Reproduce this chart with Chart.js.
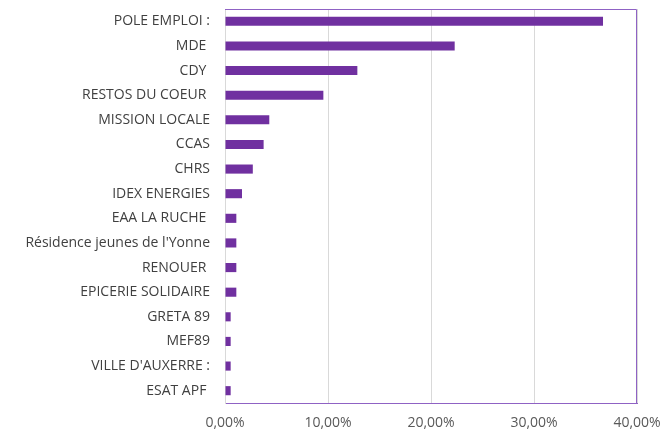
<!DOCTYPE html>
<html lang="fr">
<head>
<meta charset="UTF-8">
<title>partenaires</title>
<script src="https://cdn.jsdelivr.net/npm/chart.js"></script>
<style>
  html, body { margin: 0; padding: 0; background: #fff; }
  .wrap { width: 664px; height: 433px; position: relative; }
</style>
</head>
<body>
<div class="wrap"><canvas id="myChart"></canvas></div>
<script>
// categories (trailing spaces kept as in the source sheet)
const partenaires = [
  "POLE EMPLOI :", "MDE ", "CDY ", "RESTOS DU COEUR ", "MISSION LOCALE",
  "CCAS", "CHRS", "IDEX ENERGIES", "EAA LA RUCHE ", "Résidence jeunes de l'Yonne",
  "RENOUER ", "EPICERIE SOLIDAIRE", "GRETA 89", "MEF89", "VILLE D'AUXERRE :", "ESAT APF "
];
// share of orientations, in %
const parts = [36.7, 22.3, 12.85, 9.55, 4.3, 3.75, 2.7, 1.65, 1.1, 1.1, 1.1, 1.1, 0.55, 0.55, 0.55, 0.55];
const xTicks = [0, 10, 20, 30, 40];

const purple = '#7030a0';
const frameColor = '#8f62c4';

// frame around the plot area (top + right edges)
const frame = {
  id: 'frame',
  afterDraw(chart) {
    const a = chart.chartArea, ctx = chart.ctx;
    ctx.save();
    ctx.strokeStyle = frameColor;
    ctx.lineWidth = 1;
    ctx.beginPath();
    ctx.moveTo(a.left, a.top + 0.5);
    ctx.lineTo(a.right - 0.5, a.top + 0.5);
    ctx.lineTo(a.right - 0.5, a.bottom);
    ctx.stroke();
    ctx.restore();
  }
};

new Chart("myChart", {
  type: "bar",
  data: {
    labels: partenaires,
    datasets: [{
      data: parts,
      backgroundColor: purple,
      borderWidth: 0,
      barPercentage: 0.37,
      categoryPercentage: 1
    }]
  },
  options: {
    indexAxis: 'y',
    responsive: true,
    maintainAspectRatio: false,
    animation: false,
    layout: { padding: { top: 9, right: 27, left: 0, bottom: 0 } },
    plugins: { legend: { display: false }, tooltip: { enabled: false } },
    scales: {
      x: {
        min: 0,
        max: 40,
        afterBuildTicks(scale) { scale.ticks = xTicks.map(v => ({ value: v })); },
        afterFit(scale) { scale.height = 30; scale.paddingLeft = 0; scale.paddingRight = 0; },
        grid: { color: '#d9d9d9', drawTicks: false },
        border: { color: frameColor, width: 1 },
        ticks: {
          padding: 12,
          color: '#595959',
          font: { family: 'Open Sans', size: 14 },
          callback: v => v.toFixed(2).replace('.', ',') + '%'
        }
      },
      y: {
        afterFit(scale) { scale.width = 225; scale.paddingTop = 0; scale.paddingBottom = 0; },
        grid: { display: false, drawTicks: false },
        border: { color: '#d9d9d9', width: 1 },
        ticks: {
          padding: 15,
          color: '#404040',
          autoSkip: false,
          font: { family: 'Open Sans', size: 14 }
        }
      }
    }
  },
  plugins: [frame]
});
</script>
</body>
</html>
